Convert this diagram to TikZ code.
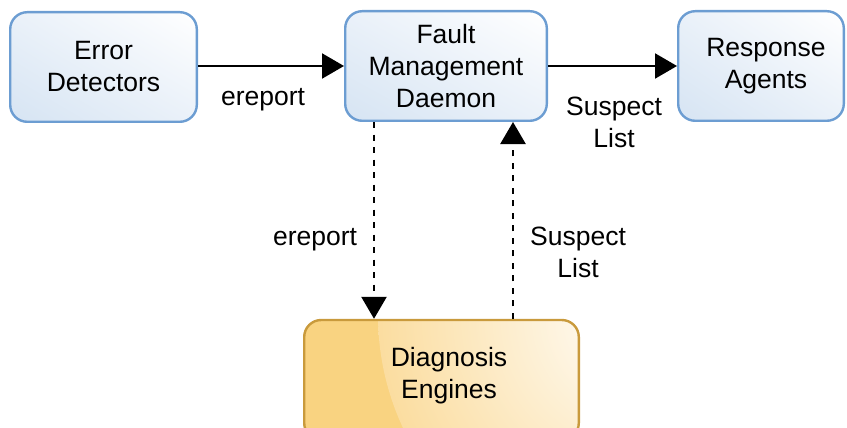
\documentclass[tikz,border=0pt]{standalone}
\usepackage{fontspec}
\setmainfont{Liberation Sans}
\usetikzlibrary{arrows.meta,calc,shadings}
\definecolor{boxblue}{HTML}{6C9DD2}
\definecolor{bluefill}{HTML}{D6E4F3}
\definecolor{bluemid}{HTML}{EAF1F9}
\definecolor{boxorange}{HTML}{C99A3C}
\definecolor{orangefill}{HTML}{F9D381}
\definecolor{orangelight}{HTML}{FBDDA0}
\tikzset{
  lbl/.style={font=\fontsize{26.5}{32}\selectfont, align=center, inner sep=0pt},
  bluebox/.style={draw=boxblue, line width=2.4pt, rounded corners=17pt,
    minimum height=109.6pt, inner sep=0pt, align=center,
    font=\fontsize{26.5}{32}\selectfont,
    upper left=bluemid, upper right=white, lower left=bluefill, lower right=bluemid},
  orangebox/.style={draw=boxorange, line width=2.4pt, rounded corners=17pt,
    inner sep=0pt,
    path picture={
      \fill[orangefill] (path picture bounding box.south west) rectangle (path picture bounding box.north east);
      \shade[inner color=white, outer color=orangelight] (203.5,-65) circle (267pt);
    }},
  solidarrow/.style={line width=2.2pt, -{Triangle[length=22pt,width=25pt]}},
  dasharrow/.style={line width=2.5pt, dash pattern=on 6pt off 6.5pt, -{Triangle[length=22pt,width=25pt]}},
}
\begin{document}
\begin{tikzpicture}[x=1pt,y=-1pt]
\useasboundingbox (0,0) rectangle (847,428);
\clip (0,0) rectangle (847,428);
\node[bluebox, minimum width=186.6pt] (ed) at (103.5,67) {Error\\Detectors};
\node[bluebox, minimum width=201.6pt] (fmd) at (446,66) {Fault\\Management\\Daemon};
\node[bluebox, minimum width=165.6pt] (ra) at (761,66) {\hspace*{10pt}Response\\\hspace*{10pt}Agents};
\node[orangebox, minimum width=274.6pt, minimum height=120pt] (de) at (441.5,380) {};
\node[lbl] (detext) at (449,376) {Diagnosis\\Engines};

\draw[solidarrow] (ed.east |- 0,66) -- (fmd.west);
\draw[solidarrow] (fmd) -- (ra);
\draw[dasharrow] ([xshift=-72pt]fmd.south) -- ([xshift=-67.5pt]de.north);
\draw[dasharrow] ([xshift=71.5pt]de.north) -- ([xshift=67pt]fmd.south);

\node[lbl] (l1) at (263,100) {ereport};
\node[lbl] (l2) at (614,122) {Suspect\\List};
\node[lbl] (l3) at (315,240) {ereport};
\node[lbl] (l4) at (578,252) {Suspect\\List};
\end{tikzpicture}
\end{document}
